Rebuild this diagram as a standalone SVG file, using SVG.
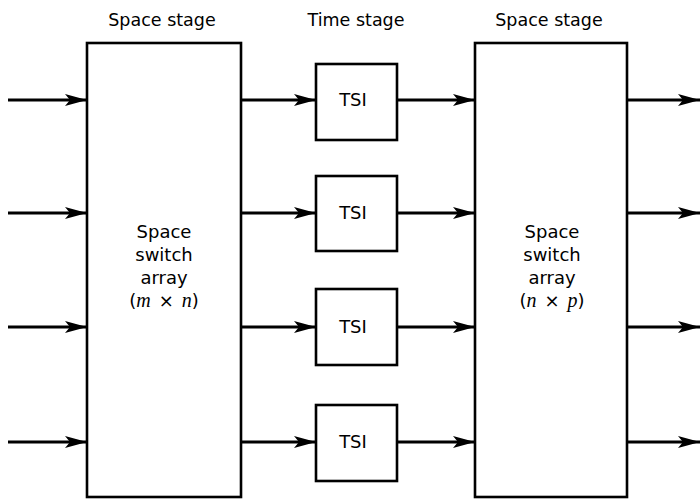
<svg xmlns="http://www.w3.org/2000/svg" width="700" height="499" viewBox="0 0 700 499">
  <style>
    .box { fill: #fff; stroke: #000; stroke-width: 2.6; }
    .lbl { font-family: "DejaVu Sans", "Liberation Sans", sans-serif; font-size: 17.5px; fill: #000; text-anchor: middle; }
    .big { font-size: 18px; }
    .var { font-family: "Liberation Serif", "DejaVu Serif", serif; font-style: italic; font-size: 20px; }
    .wire { stroke: #000; stroke-width: 3; fill: none; marker-end: url(#head); }
  </style>
  <defs>
    <marker id="head" markerUnits="userSpaceOnUse" markerWidth="24" markerHeight="14" refX="22" refY="6" orient="auto">
      <path d="M0,0 L22,6 L0,12 L5,6 Z" fill="#000"/>
    </marker>
  </defs>
  <rect width="700" height="499" fill="#fff"/>

  <!-- stage headings -->
  <text class="lbl" x="162" y="26">Space stage</text>
  <text class="lbl" x="356" y="26">Time stage</text>
  <text class="lbl" x="549" y="26">Space stage</text>

  <!-- connectors -->
  <g id="connectors">
    <line class="wire" x1="8" y1="100" x2="87" y2="100"/>
    <line class="wire" x1="8" y1="213" x2="87" y2="213"/>
    <line class="wire" x1="8" y1="327" x2="87" y2="327"/>
    <line class="wire" x1="8" y1="442" x2="87" y2="442"/>

    <line class="wire" x1="241" y1="100" x2="316" y2="100"/>
    <line class="wire" x1="241" y1="213" x2="316" y2="213"/>
    <line class="wire" x1="241" y1="327" x2="316" y2="327"/>
    <line class="wire" x1="241" y1="442" x2="316" y2="442"/>

    <line class="wire" x1="397" y1="100" x2="475" y2="100"/>
    <line class="wire" x1="397" y1="213" x2="475" y2="213"/>
    <line class="wire" x1="397" y1="327" x2="475" y2="327"/>
    <line class="wire" x1="397" y1="442" x2="475" y2="442"/>

    <line class="wire" x1="627" y1="100" x2="700" y2="100"/>
    <line class="wire" x1="627" y1="213" x2="700" y2="213"/>
    <line class="wire" x1="627" y1="327" x2="700" y2="327"/>
    <line class="wire" x1="627" y1="442" x2="700" y2="442"/>
  </g>

  <!-- first space switch -->
  <g id="space1">
    <rect class="box" x="87" y="43" width="154" height="454"/>
    <text class="lbl big" x="164" y="238">Space</text>
    <text class="lbl big" x="164" y="261">switch</text>
    <text class="lbl big" x="164" y="284">array</text>
    <text class="lbl big" x="164" y="307">(<tspan class="var">m</tspan><tspan dx="8">×</tspan><tspan class="var" dx="8">n</tspan>)</text>
  </g>

  <!-- time slot interchangers -->
  <g id="tsi1">
    <rect class="box" x="316" y="64" width="81" height="76"/>
    <text class="lbl big" x="353" y="106">TSI</text>
  </g>
  <g id="tsi2">
    <rect class="box" x="316" y="176" width="81" height="75"/>
    <text class="lbl big" x="353" y="219">TSI</text>
  </g>
  <g id="tsi3">
    <rect class="box" x="316" y="289" width="81" height="76"/>
    <text class="lbl big" x="353" y="333">TSI</text>
  </g>
  <g id="tsi4">
    <rect class="box" x="316" y="405" width="81" height="76"/>
    <text class="lbl big" x="353" y="448">TSI</text>
  </g>

  <!-- second space switch -->
  <g id="space2">
    <rect class="box" x="475" y="43" width="152" height="454"/>
    <text class="lbl big" x="552" y="238">Space</text>
    <text class="lbl big" x="552" y="261">switch</text>
    <text class="lbl big" x="552" y="284">array</text>
    <text class="lbl big" x="552" y="307">(<tspan class="var">n</tspan><tspan dx="8">×</tspan><tspan class="var" dx="8">p</tspan>)</text>
  </g>
</svg>
